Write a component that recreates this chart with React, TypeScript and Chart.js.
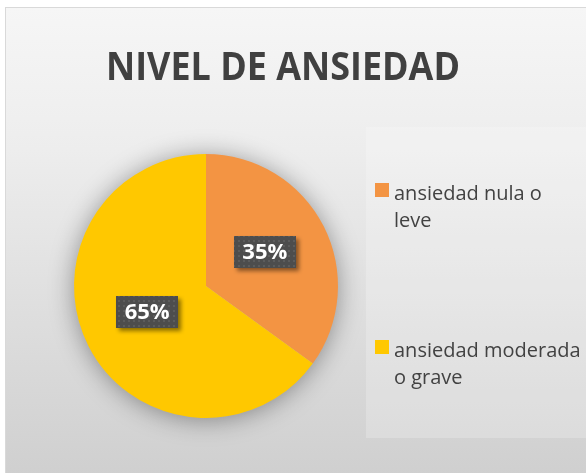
import React, { useEffect, useRef } from "react";
import { Chart, registerables } from "chart.js";

Chart.register(...registerables);

const title = "NIVEL DE ANSIEDAD";
const categories = ["ansiedad nula o leve", "ansiedad moderada o grave"];
const values = [35, 65];
const colors = ["#F39443", "#FFC800"];
const legendLines = [
  ["ansiedad nula o", "leve"],
  ["ansiedad moderada", "o grave"],
];

function makePattern(ctx: CanvasRenderingContext2D) {
  const c = document.createElement("canvas");
  c.width = 5;
  c.height = 5;
  const p = c.getContext("2d")!;
  p.fillStyle = "#4d4d4d";
  p.fillRect(0, 0, 5, 5);
  p.fillStyle = "#5c5c5c";
  p.fillRect(2, 2, 2, 2);
  return ctx.createPattern(c, "repeat")!;
}

const customPlugin = {
  id: "customDecor",
  beforeDraw(chart: any) {
    const ctx = chart.ctx as CanvasRenderingContext2D;
    ctx.save();
    // legend panel
    ctx.fillStyle = "rgba(255,255,255,0.22)";
    ctx.fillRect(360, 119, 240, 311);
    // title
    ctx.fillStyle = "#404040";
    ctx.font = "bold 39px 'Open Sans'";
    ctx.textAlign = "center";
    ctx.textBaseline = "alphabetic";
    ctx.fillText(title, 277, 72, 354);
    ctx.restore();
  },
  beforeDatasetsDraw(chart: any) {
    const meta = chart.getDatasetMeta(0);
    const arc = meta.data[0];
    if (!arc) return;
    const { x, y, outerRadius } = arc.getProps(["x", "y", "outerRadius"], true);
    const ctx = chart.ctx as CanvasRenderingContext2D;
    ctx.save();
    ctx.shadowColor = "rgba(0,0,0,0.4)";
    ctx.shadowBlur = 26;
    ctx.shadowOffsetY = 2;
    ctx.fillStyle = "#bbbbbb";
    ctx.beginPath();
    ctx.arc(x, y, outerRadius - 1, 0, Math.PI * 2);
    ctx.fill();
    ctx.restore();
  },
  afterDatasetsDraw(chart: any) {
    const ctx = chart.ctx as CanvasRenderingContext2D;
    const meta = chart.getDatasetMeta(0);
    const data = chart.data.datasets[0].data as number[];
    const total = data.reduce((a, b) => a + b, 0);
    const pattern = makePattern(ctx);
    meta.data.forEach((arc: any, i: number) => {
      const { x, y, startAngle, endAngle, outerRadius } = arc.getProps(
        ["x", "y", "startAngle", "endAngle", "outerRadius"],
        true
      );
      const mid = (startAngle + endAngle) / 2;
      const r = outerRadius * 0.5;
      const cx = x + Math.cos(mid) * r;
      const cy = y + Math.sin(mid) * r - 4;
      const w = 62;
      const h = 32;
      ctx.save();
      ctx.shadowColor = "rgba(0,0,0,0.45)";
      ctx.shadowBlur = 4;
      ctx.shadowOffsetX = 3;
      ctx.shadowOffsetY = 3;
      ctx.fillStyle = pattern;
      ctx.fillRect(Math.round(cx - w / 2), Math.round(cy - h / 2), w, h);
      ctx.restore();
      ctx.save();
      ctx.fillStyle = "#ffffff";
      ctx.font = "bold 22px 'Open Sans'";
      ctx.textAlign = "center";
      ctx.textBaseline = "middle";
      const pct = Math.round((data[i] / total) * 100) + "%";
      ctx.fillText(pct, cx, cy + 1);
      ctx.restore();
    });
  },
  afterDraw(chart: any) {
    const ctx = chart.ctx as CanvasRenderingContext2D;
    const ds = chart.data.datasets[0];
    const itemTops = [175, 332];
    ctx.save();
    ctx.font = "20px 'Open Sans'";
    ctx.textAlign = "left";
    ctx.textBaseline = "alphabetic";
    legendLines.forEach((lines, i) => {
      const top = itemTops[i];
      ctx.fillStyle = (ds.backgroundColor as string[])[i];
      ctx.fillRect(369, top, 14, 14);
      ctx.fillStyle = "#424242";
      lines.forEach((ln, j) => {
        ctx.fillText(ln, 388, top + 17 + j * 27);
      });
    });
    ctx.restore();
  },
};

export default function App() {
  const canvasRef = useRef<HTMLCanvasElement | null>(null);

  useEffect(() => {
    if (!canvasRef.current) return;
    const chart = new Chart(canvasRef.current, {
      type: "pie",
      data: {
        labels: categories,
        datasets: [
          {
            data: values,
            backgroundColor: colors,
            borderWidth: 0,
          },
        ],
      },
      options: {
        responsive: false,
        animation: false,
        layout: { padding: { left: 68, right: 248, top: 146, bottom: 55 } },
        plugins: {
          legend: { display: false },
          title: { display: false },
          tooltip: { enabled: false },
        },
      },
      plugins: [customPlugin],
    });
    return () => chart.destroy();
  }, []);

  return (
    <div style={{ position: "fixed", inset: 0, background: "#ffffff", overflow: "hidden" }}>
      <div
        style={{
          position: "absolute",
          left: 5,
          top: 7,
          width: 620,
          height: 470,
          border: "1px solid #d9d9d9",
          background: "linear-gradient(180deg, #f6f6f6 0%, #ededed 30%, #cfcfcf 100%)",
        }}
      >
        <canvas
          ref={canvasRef}
          width={580}
          height={465}
          style={{ position: "absolute", left: 0, top: 0, width: 580, height: 465 }}
        />
      </div>
    </div>
  );
}
